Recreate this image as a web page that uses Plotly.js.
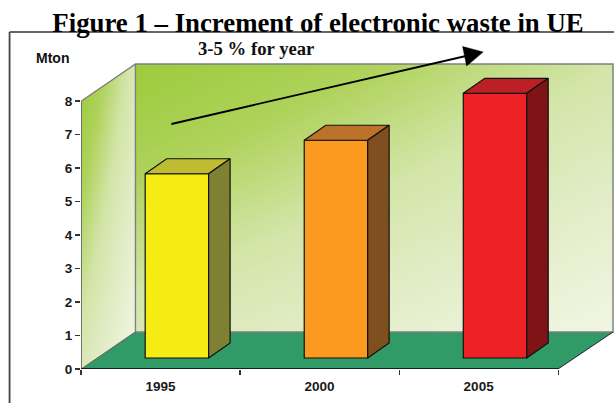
<!DOCTYPE html>
<html><head><meta charset="utf-8">
<script src="https://cdn.plot.ly/plotly-3.0.1.min.js"></script>
<style>html,body{margin:0;padding:0;background:#fff;overflow:hidden}</style>
</head><body><div id="chart" style="width:614px;height:403px"></div>
<script>
const categories = ['1995', '2000', '2005'];
const values = [5.5, 6.5, 7.9];
const frontColors = ['#f5ec14', '#fb9a1e', '#ee2226'];
const topColors = ['#bfbc33', '#bd722a', '#bd1f27'];
const sideColors = ['#808033', '#7f4f20', '#7e1416'];
const yTicks = [0, 1, 2, 3, 4, 5, 6, 7, 8];

// Page-pixel geometry of the axes and the 3-D projection
const L = 80.5, B = 369, W = 533.5;
const pxPerCat = 159.2, pxPerUnit = 33.5;
const xr = [0, W / pxPerCat], yr = [0, B / pxPerUnit];
const X = px => (px - L) / pxPerCat;          // page x -> axis x
const Y = py => (B - py) / pxPerUnit;         // page y -> axis y
const PX = px => (px - L) / W;                // page x -> paper x
const PY = py => (B - py) / B;                // page y -> paper y
const dx = 21.5 / pxPerCat, dy = 15 / pxPerUnit; // bar depth
const barBase = Y(358), barWidth = 63.5 / pxPerCat, barLead = 96 / pxPerCat;

// Background gradient (decoration only): corner shades tl,tr,bl,br on a bilinear patch
const wall = (xa, xb, ya, yb, tl, tr, bl, br) => {
  const n = 24, idx = [...Array(n).keys()];
  const z = idx.map(j => idx.map(i => {
    const u = (i + 0.5) / n, v = (j + 0.5) / n;
    return (1 - v) * ((1 - u) * bl + u * br) + v * ((1 - u) * tl + u * tr);
  }));
  return {type: 'heatmap', x0: xa + (xb - xa) / n / 2, dx: (xb - xa) / n, y0: ya + (yb - ya) / n / 2, dy: (yb - ya) / n, z,
    zsmooth: 'best', zmin: 0, zmax: 1, showscale: false, hoverinfo: 'skip',
    colorscale: [[0, '#f3f7e6'], [0.3, '#e0ecc4'], [0.5, '#d3e5a8'], [0.75, '#aed25a'], [1, '#9ccb3c']]};
};
const poly = (xs, ys, fill, line, width, axes) => Object.assign({type: 'scatter', mode: 'lines', x: xs, y: ys,
  fill: 'toself', fillcolor: fill, line: {color: line, width: width}, hoverinfo: 'skip',
  showlegend: false, cliponaxis: false}, axes || {});
const line = (xs, ys, color, width, axes) => Object.assign({type: 'scatter', mode: 'lines', x: xs, y: ys,
  line: {color, width}, hoverinfo: 'skip', showlegend: false, cliponaxis: false}, axes || {});

const over = {xaxis: 'x2', yaxis: 'y2'};
const traces = [];
// Walls
traces.push(wall(X(135), X(613), Y(332), Y(64), 1, 0.5, 0.42, 0.02));
traces.push(wall(X(81), X(135), Y(369), Y(64), 1, 0.42, 0.4, 0));
// Mask above the side wall, floor
traces.push(poly([X(80), X(135), X(80), X(80)], [Y(101), Y(64), Y(64), Y(101)], '#ffffff', 'rgba(0,0,0,0)', 0));
traces.push(poly([X(81), X(135), X(613), X(558), X(81)], [Y(369), Y(332), Y(332), Y(369), Y(369)], '#319b68', 'rgba(0,0,0,0)', 0));
// Wall edges
traces.push(line([X(81), X(135), X(613), X(613), X(135), X(135)], [Y(101), Y(64), Y(64), Y(332), Y(332), Y(64)], '#7f7f7f', 1.4));
traces.push(line([X(81), X(135)], [0, Y(332)], '#6a6a6a', 1.2));
traces.push(line([X(558), X(613)], [0, Y(332)], '#222222', 1));
// Axes
traces.push(line([0, 0], [0, 8], '#555555', 1.6));
traces.push(line([0, 3], [0, 0], '#000000', 1.6));

// Front faces
traces.push({type: 'bar', x: categories.map((c, i) => i + barLead), y: values, base: barBase,
  width: barWidth, marker: {color: frontColors, line: {color: '#111111', width: 1.2}},
  hoverinfo: 'skip', showlegend: false, xaxis: 'x2', yaxis: 'y2'});
// Top and side faces
values.forEach((v, i) => {
  const a = i + barLead - barWidth / 2, b = a + barWidth, t = barBase + v;
  traces.push(poly([a, a + dx, b + dx, b, a], [t, t + dy, t + dy, t, t], topColors[i], '#111111', 1.2, over));
  traces.push(poly([b, b + dx, b + dx, b, b], [t, t + dy, barBase + dy, barBase, t], sideColors[i], '#111111', 1.2, over));
});

const arrowFrom = [171, 124], arrowTo = [483, 52];
const fontSans = 'Liberation Sans, Arial, sans-serif', fontSerif = 'Liberation Serif, Times New Roman, serif';
const layout = {
  width: 614, height: 403, autosize: false, showlegend: false, bargap: 0,
  paper_bgcolor: '#ffffff', plot_bgcolor: 'rgba(0,0,0,0)',
  margin: {l: L, r: 614 - L - W, t: 0, b: 403 - B, pad: 0},
  title: {text: '<b>Figure 1 – Increment of electronic waste in UE</b>', x: 318 / 614, xanchor: 'center', xref: 'container',
    yref: 'container', y: 1 - 23 / 403, yanchor: 'middle', font: {family: fontSerif, size: 26.8, color: '#000000'}},
  xaxis: {range: xr, showgrid: false, zeroline: false, showline: false, tickmode: 'array',
    tickvals: categories.map((c, i) => i + 0.5), ticktext: categories, ticks: '', ticklen: 0, ticklabelstandoff: 7,
    minor: {tickmode: 'array', tickvals: [0, 1, 2, 3], ticks: 'outside', ticklen: 5, tickwidth: 1.2, tickcolor: '#333333', showgrid: false},
    tickfont: {family: fontSans, size: 13.5, color: '#1a1a1a', weight: 'bold'}, tickangle: 0},
  yaxis: {range: yr, showgrid: false, zeroline: false, showline: false, tickmode: 'array',
    tickvals: yTicks, ticktext: yTicks.map(String), ticks: 'outside', ticklen: 5, tickwidth: 1.2, tickcolor: '#333333',
    tickfont: {family: fontSans, size: 13.5, color: '#1a1a1a', weight: 'bold'}},
  xaxis2: {range: xr, overlaying: 'x', visible: false, fixedrange: true},
  yaxis2: {range: yr, overlaying: 'y', visible: false, fixedrange: true},
  annotations: [
    {text: '<b>Mton</b>', xref: 'paper', yref: 'paper', x: PX(52), y: PY(57.5), showarrow: false, xanchor: 'center', yanchor: 'middle',
      font: {family: fontSans, size: 14, color: '#111111'}},
    {text: '<b>3-5 % for year</b>', xref: 'paper', yref: 'paper', x: PX(256), y: PY(48), showarrow: false, xanchor: 'center', yanchor: 'middle',
      font: {family: fontSerif, size: 18.7, color: '#111111'}}
  ],
  shapes: [
    {type: 'line', xref: 'paper', yref: 'paper', x0: PX(9), x1: PX(614), y0: PY(32), y1: PY(32), line: {color: '#333333', width: 1.5}, layer: 'above'},
    {type: 'line', xref: 'paper', yref: 'paper', x0: PX(9), x1: PX(9), y0: PY(32), y1: PY(403), line: {color: '#444444', width: 1.8}, layer: 'above'},
    {type: 'line', xref: 'x', yref: 'y', x0: X(arrowFrom[0]), y0: Y(arrowFrom[1]), x1: X(468), y1: Y(55.5), line: {color: '#000000', width: 1.8}, layer: 'above'},
    {type: 'path', xref: 'x', yref: 'y', layer: 'above', fillcolor: '#000000', line: {color: '#000000', width: 0.5},
      path: `M${X(arrowTo[0])},${Y(arrowTo[1])} L${X(462.5)},${Y(46.5)} L${X(466.5)},${Y(66)} Z`}
  ]
};
Plotly.newPlot('chart', traces, layout, {displayModeBar: false, staticPlot: true});
</script></body></html>
